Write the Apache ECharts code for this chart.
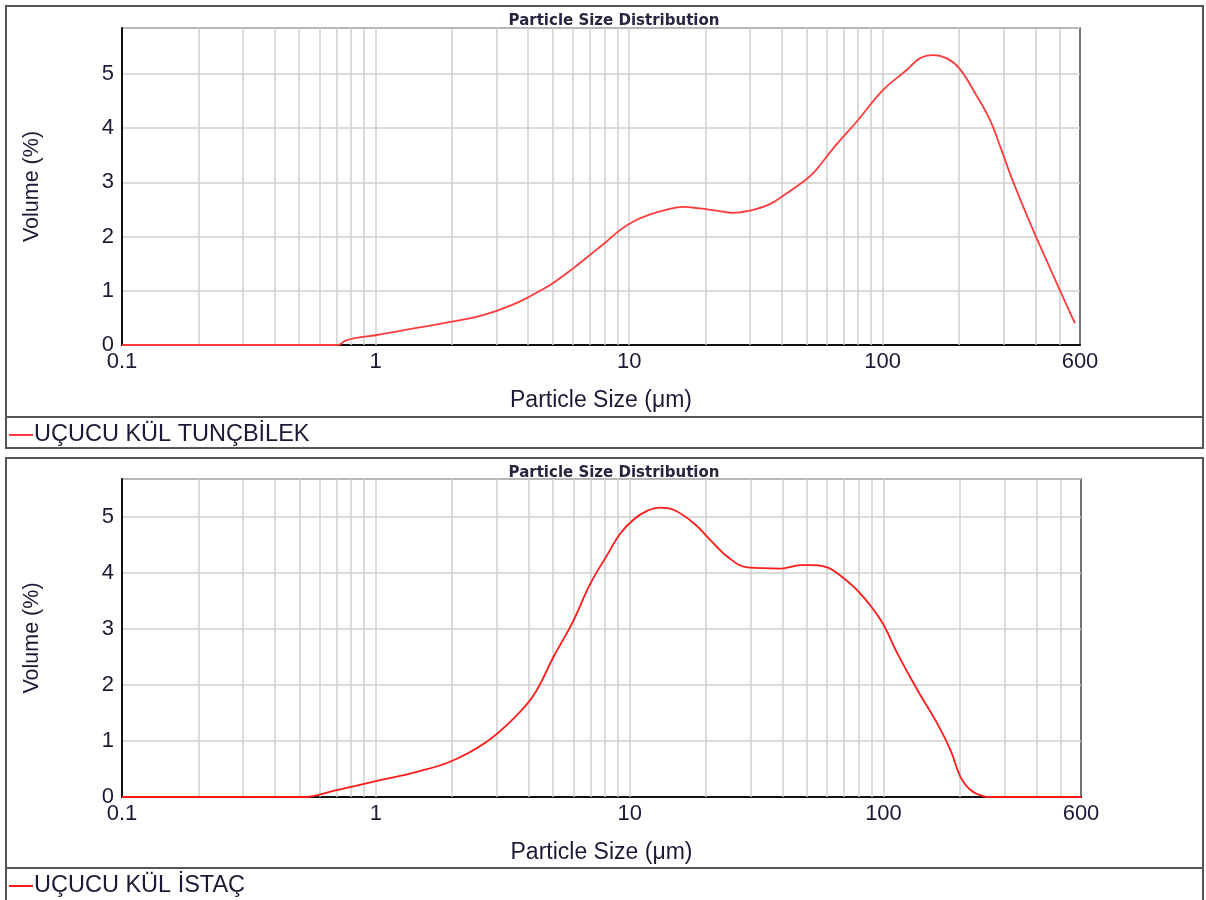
<!DOCTYPE html>
<html>
<head>
<meta charset="utf-8">
<script src="https://cdn.jsdelivr.net/npm/echarts@6/dist/echarts.min.js"></script>
<style>
html,body{margin:0;padding:0;background:#fff;}
#c{width:1206px;height:900px;}
</style>
</head>
<body>
<div id="c"></div>
<script>
// ---- data ----
var titleText = 'Particle Size Distribution';
var xName = 'Particle Size (\u03bcm)';
var yName = 'Volume (%)';
var xTickLabels = [0.1, 1, 10, 100, 600];
var xGridValues = [0.2,0.3,0.4,0.5,0.6,0.7,0.8,0.9,1,2,3,4,5,6,7,8,9,10,20,30,40,50,60,70,80,90,100,200,300,400,500];

var nameA = 'U\u00c7UCU K\u00dcL TUN\u00c7B\u0130LEK';
var sizesA = [0.1,0.71,0.76,0.84,1.0,1.25,1.6,2.0,2.5,3.0,3.7,4.45,5.0,6.0,7.0,8.15,9.2,10.4,12.1,14.1,16.3,19.0,22.1,25.7,29.9,35.9,41.8,47.2,53.2,63.8,78.9,100,124,140,158,179,201,234,265,294,327,392,442,500,573];
var volumeA = [0,0,0.08,0.13,0.18,0.26,0.35,0.43,0.52,0.63,0.80,1.0,1.14,1.41,1.66,1.91,2.12,2.28,2.41,2.50,2.55,2.52,2.48,2.44,2.48,2.60,2.80,2.97,3.17,3.63,4.12,4.70,5.07,5.29,5.35,5.29,5.10,4.61,4.15,3.60,3.01,2.12,1.57,1.01,0.40];

var nameB = 'U\u00c7UCU K\u00dcL \u0130STA\u00c7';
var sizesB = [0.1,0.527,0.68,1.04,1.45,1.96,2.7,3.45,4.19,5.02,5.93,7.0,8.15,9.2,10.4,11.7,13.2,14.9,17.9,20.8,24.3,29.1,39.3,47.2,52,58.2,63.8,78.9,97.5,113.5,136,163,184,201,221,249,262,600];
var volumeB = [0,0,0.11,0.30,0.45,0.63,0.97,1.38,1.82,2.51,3.10,3.81,4.32,4.71,4.96,5.11,5.17,5.13,4.89,4.59,4.29,4.10,4.08,4.14,4.14,4.12,4.04,3.69,3.16,2.56,1.91,1.31,0.83,0.36,0.12,0.01,0,0];

var yMaxA = 5.85, yMaxB = 5.68;

// ---- build ----
function zip(xs, ys){ var o=[]; for(var i=0;i<xs.length;i++) o.push([xs[i], ys[i]]); return o; }
var txtColor = '#1a1a36';
var fontFam = '"Liberation Sans", Arial, sans-serif';

function xAxisCfg(idx){
  return {
    gridIndex: idx, type: 'log', logBase: 10, min: 0.1, max: 600,
    name: xName, nameLocation: 'middle', nameGap: 44,
    nameTextStyle: {fontSize: 23, color: txtColor, fontFamily: fontFam},
    axisLine: {show: true, lineStyle: {color: '#111', width: 2}},
    axisTick: {show: false},
    splitLine: {show: false},
    minorTick: {show: false},
    axisLabel: {customValues: xTickLabels, fontSize: 22, color: txtColor, fontFamily: fontFam, margin: 6,
      formatter: function(v){ return String(+v.toPrecision(6)); }}
  };
}
function yAxisCfg(idx, mx){
  return {
    gridIndex: idx, type: 'value', min: 0, max: mx, interval: 1,
    name: yName, nameLocation: 'middle', nameGap: 79, nameRotate: 90,
    nameTextStyle: {fontSize: 21.5, color: txtColor, fontFamily: fontFam},
    axisLine: {show: true, lineStyle: {color: '#111', width: 2}},
    axisTick: {show: false},
    splitLine: {show: true, lineStyle: {color: '#cfcfcf', width: 1.5}},
    axisLabel: {showMaxLabel: false, fontSize: 22, color: txtColor, fontFamily: fontFam, margin: 8}
  };
}
function gridSeries(idx){
  return {
    type: 'line', xAxisIndex: idx, yAxisIndex: idx, data: [], silent: true, z: 1,
    markLine: {
      silent: true, symbol: 'none', z: 1, animation: false,
      label: {show: false},
      lineStyle: {color: '#cfcfcf', width: 1.5, type: 'solid'},
      data: xGridValues.map(function(v){ return {xAxis: v}; })
    }
  };
}
function dataSeries(idx, name, xs, ys, color){
  return {
    type: 'line', name: name, xAxisIndex: idx, yAxisIndex: idx,
    data: zip(xs, ys), showSymbol: false, symbol: 'none', z: 5,
    smooth: 0.4,
    lineStyle: {color: color, width: 1.8}, itemStyle: {color: color}
  };
}

var boxStroke = {stroke: '#555', lineWidth: 2, fill: null};
var titleStyle = {fontSize: 15, fontWeight: 'bold', color: '#262640', fontFamily: '"DejaVu Sans", sans-serif'};
var legendText = {fontSize: 23.5, color: txtColor, fontFamily: fontFam, padding: [0,0,0,-4]};
var option = {
  animation: false,
  backgroundColor: '#ffffff',
  title: [
    {text: titleText, left: 609, top: 9, textAlign: 'center', textStyle: titleStyle},
    {text: titleText, left: 609, top: 461, textAlign: 'center', textStyle: titleStyle}
  ],
  grid: [
    {left: 122, top: 28, width: 958, height: 317, show: true, borderColor: '#444', borderWidth: 1.5, backgroundColor: 'transparent'},
    {left: 122, top: 479, width: 959, height: 318, show: true, borderColor: '#444', borderWidth: 1.5, backgroundColor: 'transparent'}
  ],
  xAxis: [xAxisCfg(0), xAxisCfg(1)],
  yAxis: [yAxisCfg(0, yMaxA), yAxisCfg(1, yMaxB)],
  legend: [
    {data: [nameA], left: 9, top: 423, icon: 'rect', itemWidth: 24, itemHeight: 2, padding: 0, textStyle: legendText},
    {data: [nameB], left: 9, top: 874, icon: 'rect', itemWidth: 24, itemHeight: 2, padding: 0, textStyle: legendText}
  ],
  graphic: [
    {type: 'rect', shape: {x: 6, y: 6, width: 1197, height: 442}, style: boxStroke, silent: true, z: -1},
    {type: 'line', shape: {x1: 6, y1: 417, x2: 1203, y2: 417}, style: {stroke: '#555', lineWidth: 2}, silent: true, z: -1},
    {type: 'rect', shape: {x: 6, y: 458, width: 1197, height: 445}, style: boxStroke, silent: true, z: -1},
    {type: 'line', shape: {x1: 6, y1: 868, x2: 1203, y2: 868}, style: {stroke: '#555', lineWidth: 2}, silent: true, z: -1}
  ],
  series: [
    gridSeries(0), gridSeries(1),
    dataSeries(0, nameA, sizesA, volumeA, '#ff3c3c'),
    dataSeries(1, nameB, sizesB, volumeB, '#ff1a1a')
  ]
};
var chart = echarts.init(document.getElementById('c'), null, {renderer: 'canvas'});
chart.setOption(option);
</script>
</body>
</html>
